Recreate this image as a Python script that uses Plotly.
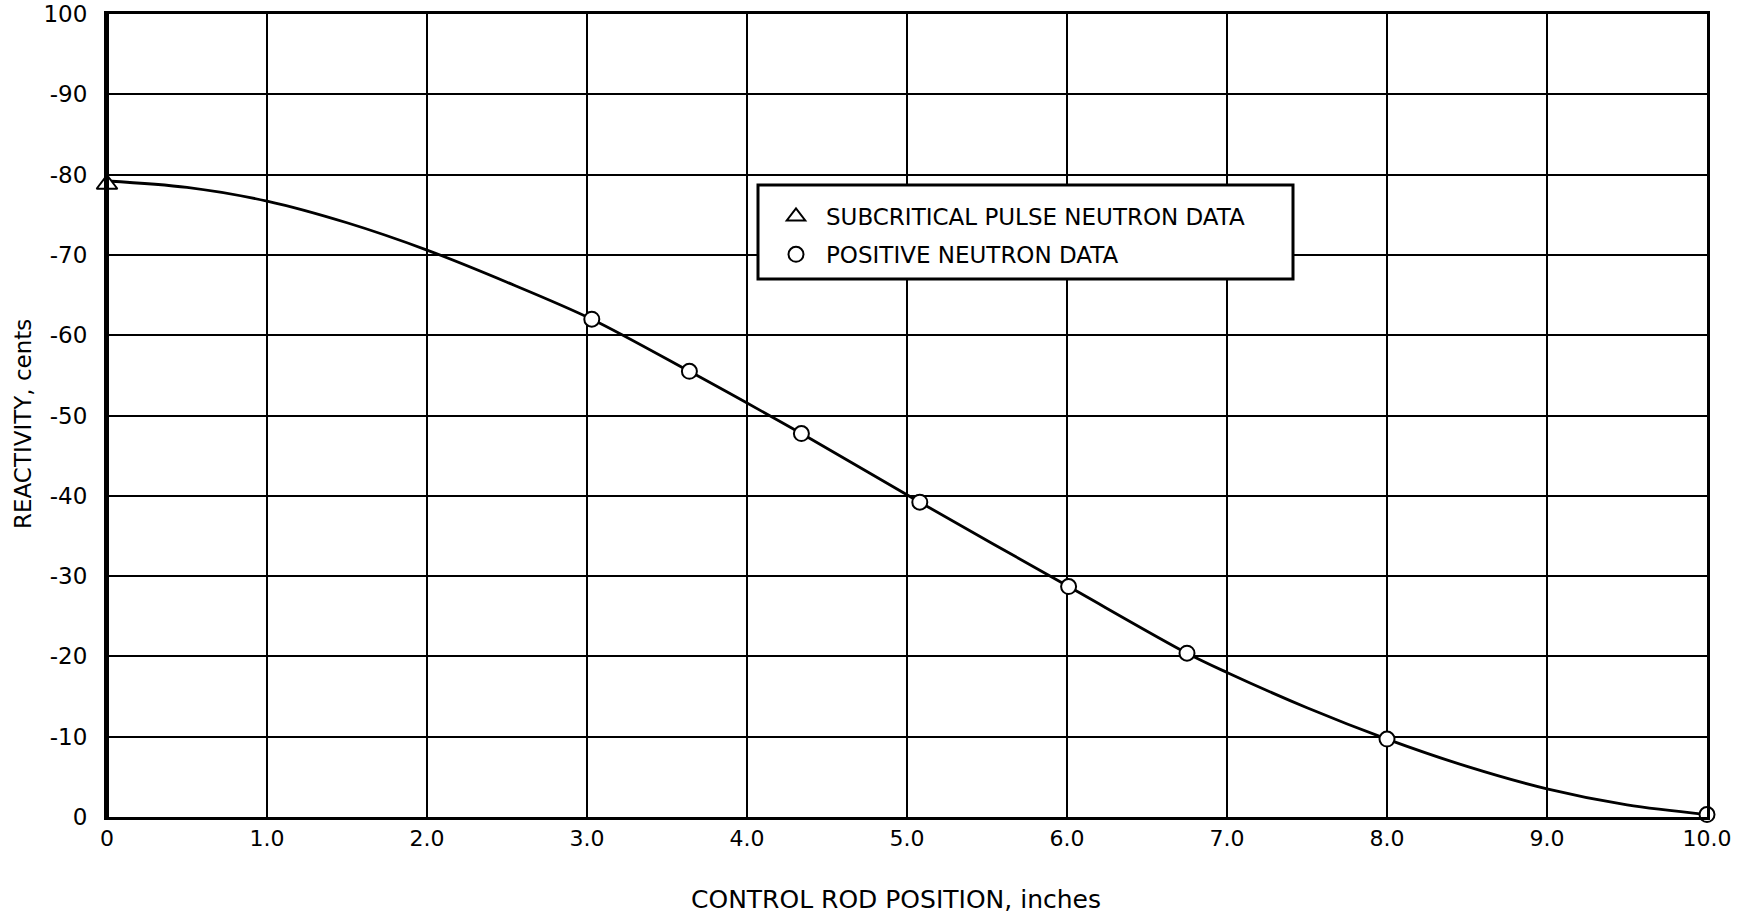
import plotly.graph_objects as go

# Control rod worth curve: reactivity (cents) versus rod position (inches)

# Smooth calibration curve through the measured points
curve_x = [0.0, 0.5, 1.0, 1.5, 2.0, 2.5, 3.03, 3.64, 4.34, 5.08,
           6.01, 6.75, 7.0, 7.5, 8.0, 8.5, 9.0, 9.5, 10.0]
curve_y = [-79.2, -78.4, -76.7, -74.0, -70.6, -66.6, -62.0, -55.5, -47.75, -39.2,
           -28.7, -20.4, -18.0, -13.6, -9.7, -6.3, -3.5, -1.5, -0.3]

# Subcritical pulsed-neutron measurement
pulse_x = [0.0]
pulse_y = [-78.8]

# Positive-period measurements
pos_x = [3.03, 3.64, 4.34, 5.08, 6.01, 6.75, 8.0, 10.0]
pos_y = [-62.0, -55.5, -47.75, -39.2, -28.7, -20.4, -9.7, -0.3]

x_ticks = [0, 1, 2, 3, 4, 5, 6, 7, 8, 9, 10]
x_labels = ["0", "1.0", "2.0", "3.0", "4.0", "5.0", "6.0", "7.0", "8.0", "9.0", "10.0"]
y_ticks = [0, -10, -20, -30, -40, -50, -60, -70, -80, -90, -100]
y_labels = ["0", "-10", "-20", "-30", "-40", "-50", "-60", "-70", "-80", "-90", "100"]

FONT = "DejaVu Sans"
INK = "black"

fig = go.Figure()

fig.add_trace(go.Scatter(
    x=curve_x, y=curve_y, mode="lines",
    line=dict(color=INK, width=2.8, shape="spline", smoothing=0.9),
    showlegend=False, hoverinfo="skip", cliponaxis=False,
))

fig.add_trace(go.Scatter(
    x=pulse_x, y=pulse_y, mode="markers",
    name="SUBCRITICAL PULSE NEUTRON DATA", legendgroup="a",
    marker=dict(symbol="triangle-up", size=18, color="white",
                line=dict(color=INK, width=2)),
    cliponaxis=False,
))

fig.add_trace(go.Scatter(
    x=pos_x, y=pos_y, mode="markers",
    name="POSITIVE NEUTRON DATA", legendgroup="b",
    marker=dict(symbol="circle", size=15, color="white",
                line=dict(color=INK, width=2)),
    cliponaxis=False,
))

L, R, T, B = 107, 30, 14, 105
W, H = 1737, 922
pw, ph = W - L - R, H - T - B

def px_x(p):
    return (p - L) / pw

def px_y(p):
    return (H - B - p) / ph

fig.update_layout(
    width=W, height=H,
    margin=dict(l=L, r=R, t=T, b=B, pad=0, autoexpand=False),
    paper_bgcolor="white", plot_bgcolor="white",
    font=dict(family=FONT, color=INK, size=23),
    showlegend=True,
    legend=dict(
        x=px_x(766), y=px_y(195), xanchor="left", yanchor="top",
        bgcolor="rgba(0,0,0,0)", borderwidth=0, itemwidth=50,
        font=dict(family=FONT, size=23, color=INK),
        traceorder="grouped", tracegroupgap=5,
    ),
    xaxis=dict(
        range=[0, 10], tickmode="array", tickvals=x_ticks, ticktext=x_labels,
        showgrid=True, gridcolor=INK, gridwidth=2, zeroline=False,
        showline=True, linecolor=INK, linewidth=3, mirror=True,
        ticks="", automargin=False,
        tickfont=dict(family=FONT, size=22, color=INK),
    ),
    yaxis=dict(
        range=[0, -100], tickmode="array", tickvals=y_ticks, ticktext=y_labels,
        showgrid=True, gridcolor=INK, gridwidth=2, zeroline=False,
        showline=True, linecolor=INK, linewidth=3, mirror=True,
        ticks="", ticklabelstandoff=12, automargin=False,
        tickfont=dict(family=FONT, size=23, color=INK),
    ),
    shapes=[
        # heavier left edge of the frame
        dict(type="line", xref="paper", yref="paper", x0=0, x1=0, y0=0, y1=1,
             line=dict(color=INK, width=4), layer="above"),
        # key box
        dict(type="rect", xref="paper", yref="paper",
             x0=px_x(758), x1=px_x(1293), y0=px_y(279), y1=px_y(185),
             line=dict(color=INK, width=3), fillcolor="white", layer="above"),
    ],
    annotations=[
        dict(text="CONTROL ROD POSITION, inches", xref="paper", yref="paper",
             x=px_x(896), y=px_y(899), xanchor="center", yanchor="middle",
             showarrow=False, font=dict(family=FONT, size=25, color=INK)),
        dict(text="REACTIVITY, cents", xref="paper", yref="paper",
             x=px_x(23), y=px_y(424), xanchor="center", yanchor="middle",
             textangle=-90, showarrow=False,
             font=dict(family=FONT, size=23, color=INK)),
    ],
)

fig.write_html("out.html")
